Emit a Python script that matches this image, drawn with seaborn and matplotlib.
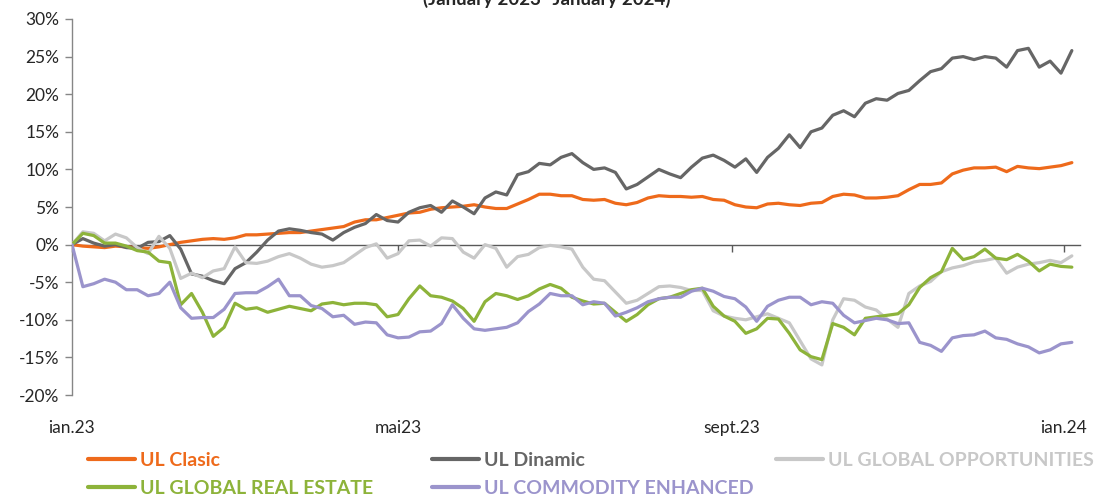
import pandas as pd
import matplotlib.pyplot as plt
import matplotlib.dates as mdates
import seaborn as sns
from matplotlib.lines import Line2D
from matplotlib.ticker import FixedLocator, FixedFormatter, FuncFormatter

# --- data (% change since start) ---
start_date = '2023-01-01'
n_points = 93
step = '4D'

ul_clasic = [0.0, -0.2, -0.3, -0.4, -0.2, -0.3, -0.4, -0.5, -0.3, 0.0,
             0.3, 0.5, 0.7, 0.8, 0.7, 0.9, 1.3, 1.3, 1.4, 1.5,
             1.6, 1.6, 1.8, 2.0, 2.2, 2.4, 3.0, 3.3, 3.3, 3.6,
             3.9, 4.2, 4.3, 4.7, 4.9, 5.0, 5.1, 5.3, 5.0, 4.8,
             4.8, 5.4, 6.0, 6.7, 6.7, 6.5, 6.5, 6.0, 5.9, 6.0,
             5.5, 5.3, 5.6, 6.2, 6.5, 6.4, 6.4, 6.3, 6.4, 6.0,
             5.9, 5.3, 5.0, 4.9, 5.4, 5.5, 5.3, 5.2, 5.5, 5.6,
             6.4, 6.7, 6.6, 6.2, 6.2, 6.3, 6.5, 7.3, 8.0, 8.0,
             8.2, 9.4, 9.9, 10.2, 10.2, 10.3, 9.7, 10.4, 10.2, 10.1,
             10.3, 10.5, 10.9]

ul_dinamic = [0.0, 0.8, 0.2, -0.2, 0.0, -0.4, -0.5, 0.3, 0.4, 1.2,
              -0.6, -3.9, -4.2, -4.8, -5.2, -3.2, -2.4, -1.0, 0.6, 1.8,
              2.1, 1.9, 1.6, 1.4, 0.6, 1.6, 2.3, 2.8, 4.0, 3.2,
              3.0, 4.3, 4.9, 5.2, 4.3, 5.8, 5.0, 4.1, 6.2, 7.0,
              6.6, 9.3, 9.7, 10.8, 10.6, 11.6, 12.1, 10.9, 10.0, 10.2,
              9.6, 7.4, 8.0, 9.0, 10.0, 9.4, 8.9, 10.3, 11.5, 11.9,
              11.2, 10.3, 11.4, 9.6, 11.6, 12.8, 14.6, 12.9, 15.0, 15.5,
              17.2, 17.8, 17.0, 18.8, 19.4, 19.2, 20.1, 20.5, 21.8, 23.0,
              23.4, 24.8, 25.0, 24.6, 25.0, 24.8, 23.6, 25.8, 26.1, 23.6,
              24.4, 22.8, 25.8]

ul_global_opp = [0.0, 1.7, 1.5, 0.5, 1.4, 0.9, -0.4, -1.2, 1.1, -0.5,
                 -4.5, -3.8, -4.4, -3.5, -3.2, -0.3, -2.4, -2.5, -2.2, -1.6,
                 -1.2, -1.8, -2.6, -3.0, -2.8, -2.4, -1.4, -0.4, 0.1, -1.8,
                 -1.2, 0.5, 0.6, -0.2, 0.9, 0.8, -1.0, -1.8, 0.0, -0.5,
                 -3.0, -1.6, -1.3, -0.4, -0.1, -0.3, -0.6, -3.0, -4.6, -4.8,
                 -6.3, -7.8, -7.4, -6.5, -5.6, -5.5, -5.7, -6.1, -6.1, -8.8,
                 -9.5, -9.8, -10.0, -9.6, -9.2, -9.8, -10.4, -12.8, -15.2, -16.0,
                 -10.0, -7.2, -7.4, -8.3, -8.7, -9.9, -11.0, -6.5, -5.5, -4.9,
                 -3.6, -3.1, -2.8, -2.3, -2.1, -1.8, -3.8, -3.0, -2.6, -2.4,
                 -2.1, -2.4, -1.5]

ul_real_estate = [0.0, 1.5, 1.2, 0.2, 0.2, -0.2, -0.8, -1.0, -2.2, -2.4,
                  -8.0, -6.5, -9.0, -12.2, -11.0, -7.8, -8.6, -8.4, -9.0, -8.6,
                  -8.2, -8.5, -8.8, -7.9, -7.7, -8.0, -7.8, -7.8, -8.0, -9.6,
                  -9.3, -7.2, -5.5, -6.8, -7.0, -7.5, -8.5, -10.2, -7.6, -6.5,
                  -6.8, -7.3, -6.8, -5.9, -5.3, -5.8, -7.0, -7.5, -7.9, -7.8,
                  -9.0, -10.2, -9.3, -8.0, -7.2, -7.0, -6.5, -6.0, -5.8, -8.2,
                  -9.5, -10.2, -11.8, -11.2, -9.8, -9.9, -11.8, -14.0, -14.9, -15.3,
                  -10.5, -11.0, -12.0, -9.8, -9.6, -9.4, -9.2, -8.0, -5.7, -4.4,
                  -3.6, -0.5, -2.0, -1.6, -0.6, -1.8, -2.0, -1.3, -2.2, -3.5,
                  -2.6, -2.9, -3.0]

ul_commodity = [0.0, -5.6, -5.2, -4.6, -5.0, -6.0, -6.0, -6.8, -6.5, -5.0,
                -8.4, -9.8, -9.7, -9.7, -8.6, -6.5, -6.4, -6.4, -5.6, -4.6,
                -6.8, -6.8, -8.1, -8.5, -9.6, -9.4, -10.6, -10.3, -10.4, -12.0,
                -12.4, -12.3, -11.6, -11.5, -10.5, -8.0, -9.8, -11.2, -11.4, -11.2,
                -11.0, -10.4, -8.9, -7.9, -6.5, -6.8, -6.8, -8.0, -7.6, -7.8,
                -9.5, -9.0, -8.4, -7.6, -7.2, -7.0, -7.0, -6.2, -5.8, -6.2,
                -6.9, -7.2, -8.3, -10.2, -8.2, -7.4, -7.0, -7.0, -8.0, -7.6,
                -7.8, -9.4, -10.4, -10.1, -9.8, -10.0, -10.5, -10.4, -13.0, -13.4,
                -14.2, -12.4, -12.1, -12.0, -11.5, -12.4, -12.6, -13.2, -13.6, -14.4,
                -14.0, -13.2, -13.0]

series_names = ['UL Clasic', 'UL Dinamic', 'UL GLOBAL OPPORTUNITIES',
                'UL GLOBAL REAL ESTATE', 'UL COMMODITY ENHANCED']
series_colors = ['#EE6A1B', '#666666', '#C8C8C8', '#8DB33A', '#9B94CC']

tick_dates = ['2023-01-01', '2023-05-01', '2023-09-01', '2024-01-01']
tick_labels = ['ian.23', 'mai23', 'sept.23', 'ian.24']
y_ticks = [-20, -15, -10, -5, 0, 5, 10, 15, 20, 25, 30]

title = '(January 2023- January 2024)'


def main():
    sns.set_theme(style='white')
    plt.rcParams['font.family'] = ['Lato', 'DejaVu Sans']

    dates = pd.date_range(start_date, periods=n_points, freq=step)
    df = pd.DataFrame({'date': dates,
                       series_names[0]: ul_clasic,
                       series_names[1]: ul_dinamic,
                       series_names[2]: ul_global_opp,
                       series_names[3]: ul_real_estate,
                       series_names[4]: ul_commodity})
    long_df = df.melt(id_vars='date', var_name='series', value_name='value')
    palette = dict(zip(series_names, series_colors))

    fig = plt.figure(figsize=(10.94, 4.98), dpi=100)
    ax = fig.add_axes([72 / 1094, 1 - 395 / 498, 1008 / 1094, 376 / 498])

    sns.lineplot(data=long_df, x='date', y='value', hue='series',
                 hue_order=series_names, palette=palette, linewidth=2.3,
                 legend=False, ax=ax, zorder=3)

    # axes like the Excel original
    ax.set_xlim(pd.Timestamp('2023-01-01'), pd.Timestamp('2024-01-07'))
    ax.set_ylim(-20, 30)
    ax.set_xlabel('')
    ax.set_ylabel('')
    for side in ['top', 'right']:
        ax.spines[side].set_visible(False)
    ax.spines['left'].set_color('#868686')
    ax.spines['left'].set_linewidth(1.0)
    ax.spines['bottom'].set_position(('data', 0))
    ax.spines['bottom'].set_color('#595959')
    ax.spines['bottom'].set_linewidth(1.0)

    ax.yaxis.set_major_locator(FixedLocator(y_ticks))
    ax.yaxis.set_major_formatter(FuncFormatter(lambda v, p: f'{v:.0f}%'))
    ax.xaxis.set_major_locator(FixedLocator(mdates.date2num(pd.to_datetime(tick_dates))))
    ax.xaxis.set_major_formatter(FixedFormatter(tick_labels))
    ax.tick_params(axis='y', direction='out', length=5, width=1, color='#868686',
                   labelsize=12.5, labelcolor='#262626', pad=4, left=True)
    ax.tick_params(axis='x', direction='out', length=5, width=1, color='#595959',
                   labelsize=12.5, labelcolor='#262626', pad=121, bottom=True)

    # title sits half outside the top edge, as in the original crop
    fig.text(0.5, 1 - 4.5 / 498, title, ha='center', va='baseline',
             fontsize=13.5, fontweight='bold', color='#262626')

    # legend: three columns placed like the original
    handles = [Line2D([], [], color=c, lw=3) for c in series_colors]
    columns = [([0, 3], 88), ([1, 4], 432), ([2], 776)]
    for idx, xpix in columns:
        fig.legend([handles[i] for i in idx], [series_names[i] for i in idx],
                   loc='upper left', bbox_to_anchor=(xpix / 1094, 1 - 452 / 498),
                   frameon=False, ncol=1, handlelength=2.4, handletextpad=0.3,
                   borderpad=0, borderaxespad=0, labelspacing=0.55,
                   labelcolor='linecolor',
                   prop={'size': 14, 'weight': 'bold'})

    fig.savefig('out.png', dpi=100)


if __name__ == '__main__':
    main()
